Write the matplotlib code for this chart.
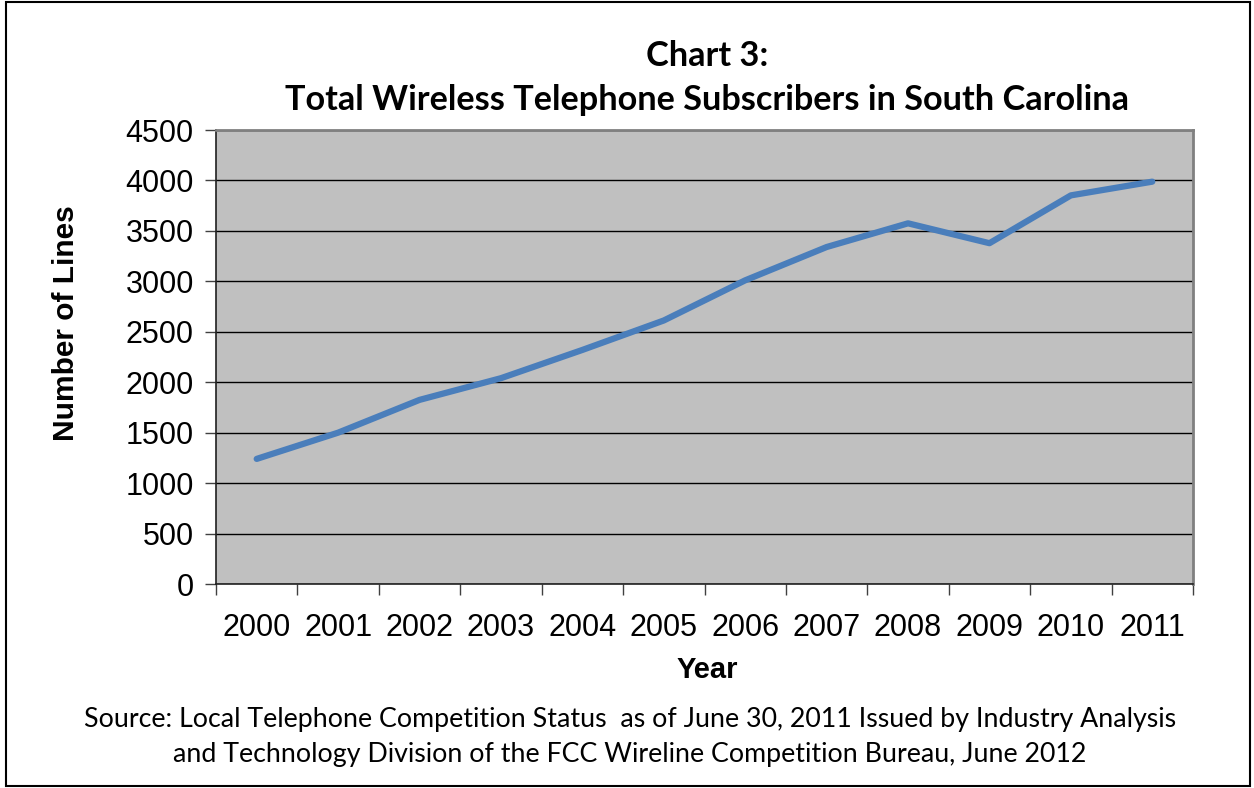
import matplotlib
matplotlib.use("Agg")
import matplotlib.pyplot as plt
from matplotlib.patches import Rectangle

years = ["2000", "2001", "2002", "2003", "2004", "2005", "2006", "2007", "2008", "2009", "2010", "2011"]
lines = [1240, 1500, 1825, 2040, 2320, 2612, 3010, 3340, 3575, 3378, 3852, 3988]
y_ticks = [0, 500, 1000, 1500, 2000, 2500, 3000, 3500, 4000, 4500]

title_text = "Chart 3:\nTotal Wireless Telephone Subscribers in South Carolina"
source_text = ("Source: Local Telephone Competition Status  as of June 30, 2011 Issued by Industry Analysis\n"
               "and Technology Division of the FCC Wireline Competition Bureau, June 2012")

W, H = 1254, 788
fig = plt.figure(figsize=(W / 100, H / 100), dpi=100)
fig.patch.set_facecolor("white")

# outer border
fig.add_artist(Rectangle((6 / W, 2 / H), (1250 - 6) / W, (786 - 2) / H, transform=fig.transFigure,
                         fill=False, edgecolor="black", linewidth=1.5))

ax = fig.add_axes([216 / W, 1 - 584 / H, (1193 - 216) / W, (584 - 130) / H])
ax.set_facecolor("#C0C0C0")

x = list(range(len(years)))
ax.plot(x, lines, color="#4A7EBB", linewidth=4.5, solid_capstyle="round", solid_joinstyle="round", zorder=3)

ax.set_xlim(-0.5, len(years) - 0.5)
ax.set_ylim(0, 4500)
ax.set_yticks(y_ticks)
ax.set_yticklabels([str(v) for v in y_ticks], fontsize=22, family="Liberation Sans")
ax.set_xticks(x)
ax.set_xticklabels(years, fontsize=22, family="Liberation Sans")
ax.set_xticks([i - 0.5 for i in range(len(years) + 1)], minor=True)
ax.tick_params(axis="x", which="major", length=0, pad=21)
ax.tick_params(axis="x", which="minor", length=8, width=1, color="#404040", direction="out")
ax.tick_params(axis="y", which="major", length=8, width=1, color="#404040", direction="out", pad=8)

ax.yaxis.grid(True, color="black", linewidth=1)
ax.set_axisbelow(True)

for s in ["left", "bottom"]:
    ax.spines[s].set_color("#202020")
    ax.spines[s].set_linewidth(1.2)
for s in ["right", "top"]:
    ax.spines[s].set_color("#808080")
    ax.spines[s].set_linewidth(2)

fig.text(707 / W, 1 - 670 / H, "Year", ha="center", va="center", fontsize=21, fontweight="bold",
         family="Liberation Sans")
fig.text(66 / W, 1 - 323 / H, "Number of Lines", ha="center", va="center", rotation=90, fontsize=21.5,
         fontweight="bold", family="Liberation Sans")

fig.text(707 / W, 1 - 78 / H, title_text, ha="center", va="center", fontsize=24.7, fontweight="bold",
         family="Lato", linespacing=1.5)
fig.text(630 / W, 1 - 737 / H, source_text, ha="center", va="center", fontsize=19.3,
         family="Lato", linespacing=1.5)

fig.savefig("out.png", dpi=100)
